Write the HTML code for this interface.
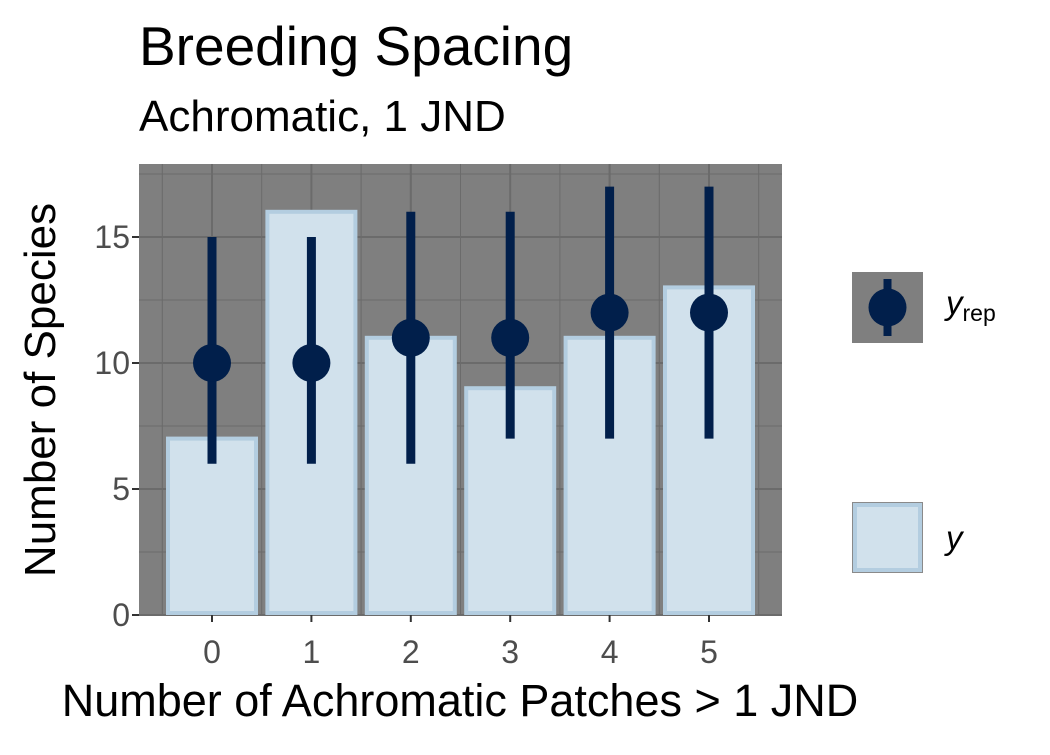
<!DOCTYPE html>
<html><head><meta charset="utf-8"><style>
body{margin:0;background:#fff;}
svg text{font-family:"Liberation Sans",sans-serif;}
</style></head><body>
<svg id="chart" width="1050" height="750" xmlns="http://www.w3.org/2000/svg">
<text x="139" y="65" font-size="55">Breeding Spacing</text>
<text x="139" y="131" font-size="44">Achromatic, 1 JND</text>
<rect x="139" y="164" width="643" height="451" fill="#7f7f7f"/>
<g id="grid"></g><g id="bars"></g><g id="ints"></g><g id="axes"></g>
<text transform="translate(55,390) rotate(-90)" text-anchor="middle" font-size="44">Number of Species</text>
<text x="460" y="716" text-anchor="middle" font-size="45">Number of Achromatic Patches &gt; 1 JND</text>
<g>
<rect x="852" y="272" width="71" height="71" fill="#7f7f7f"/>
<line x1="887.5" y1="279" x2="887.5" y2="336" stroke="#011f4b" stroke-width="8"/>
<circle cx="887.5" cy="307.5" r="19" fill="#011f4b"/>
<text x="946" y="314" font-size="33" font-style="italic">y<tspan font-size="23" font-style="normal" dy="7">rep</tspan></text>
<rect x="852" y="502" width="71" height="71" fill="#8a8a8a"/>
<rect x="855" y="505" width="65" height="65" fill="#d1e1ec" stroke="#b3cde0" stroke-width="4"/>
<text x="946" y="549" font-size="33" font-style="italic">y</text>
</g>
</svg>
<script>
const categories=[0,1,2,3,4,5];
const yObs=[7,16,11,9,11,13];
const yRepMid=[10,10,11,11,12,12];
const yRepLo=[6,6,6,7,7,7];
const yRepHi=[15,15,16,16,17,17];
const yTicks=[0,5,10,15];
const NS="http://www.w3.org/2000/svg";
const X=v=>212+(v-0)*99.4;
const Y=v=>615-v*25.2;
function mk(tag,attrs,parent){const e=document.createElementNS(NS,tag);for(const k in attrs)e.setAttribute(k,attrs[k]);document.getElementById(parent).appendChild(e);return e;}
[2.5,7.5,12.5,17.5].forEach(v=>{const l=mk('line',{x1:139,x2:782,y1:Y(v),y2:Y(v),stroke:'#6b6b6b','stroke-width':1},'grid');});
[-0.5,0.5,1.5,2.5,3.5,4.5,5.5].forEach(v=>{const l=mk('line',{x1:X(v),x2:X(v),y1:164,y2:615,stroke:'#6b6b6b','stroke-width':1},'grid');});
yTicks.forEach(v=>{const l=mk('line',{x1:139,x2:782,y1:Y(v),y2:Y(v),stroke:'#6b6b6b','stroke-width':2},'grid');
const t=mk('line',{x1:132,x2:139,y1:Y(v),y2:Y(v),stroke:'#333','stroke-width':2},'axes');
const tx=mk('text',{x:130,y:Y(v)+11,'text-anchor':'end','font-size':32,fill:'#4d4d4d'},'axes');tx.textContent=v;});
categories.forEach((c,i)=>{const l=mk('line',{x1:X(c),x2:X(c),y1:164,y2:615,stroke:'#6b6b6b','stroke-width':2},'grid');
const t=mk('line',{x1:X(c),x2:X(c),y1:615,y2:622,stroke:'#333','stroke-width':2},'axes');
const tx=mk('text',{x:X(c),y:663,'text-anchor':'middle','font-size':32,fill:'#4d4d4d'},'axes');tx.textContent=c;
const b=mk('rect',{x:X(c)-44,y:Y(yObs[i]),width:88,height:Y(0)-Y(yObs[i])-2,fill:'#d1e1ec',stroke:'#b3cde0','stroke-width':4},'bars');
const ln=mk('line',{x1:X(c),x2:X(c),y1:Y(yRepLo[i]),y2:Y(yRepHi[i]),stroke:'#011f4b','stroke-width':9},'ints');
const p=mk('circle',{cx:X(c),cy:Y(yRepMid[i]),r:19,fill:'#011f4b'},'ints');});
</script>
</body></html>
